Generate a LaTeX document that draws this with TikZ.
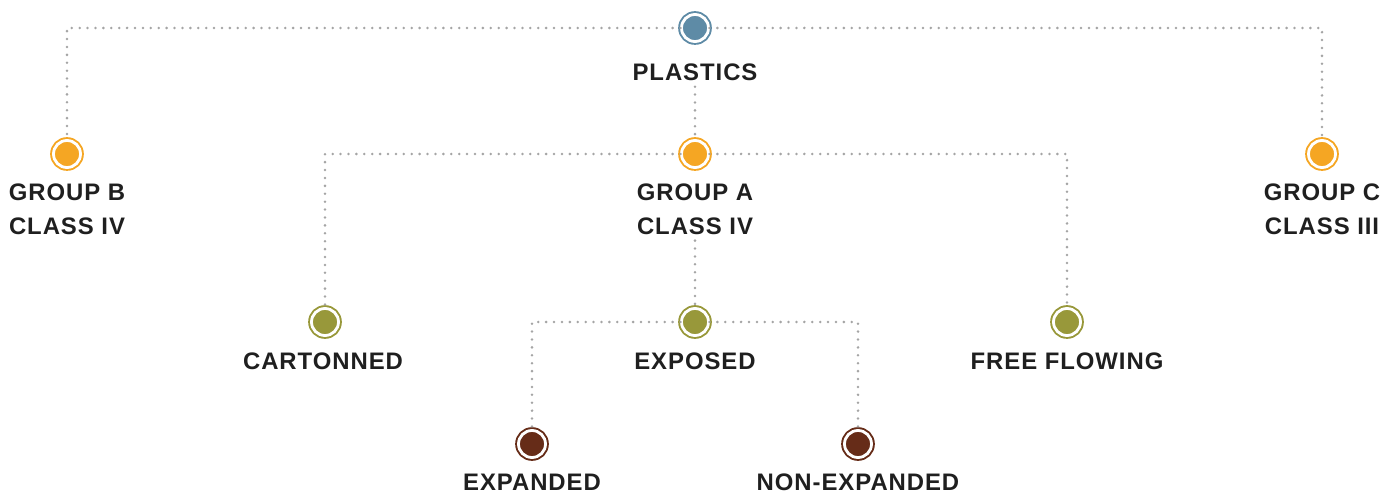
\documentclass[tikz,border=0pt]{standalone}
\usepackage{fontspec}
\setmainfont{Liberation Sans}
\usetikzlibrary{positioning}
\definecolor{plasticblue}{RGB}{94,139,166}
\definecolor{grouporange}{RGB}{245,166,35}
\definecolor{storeolive}{RGB}{152,152,58}
\definecolor{foambrown}{RGB}{102,44,24}
\definecolor{linegray}{RGB}{165,165,165}
\begin{document}
\begin{tikzpicture}[
    x=0.02cm, y=-0.02cm,
    every node/.style={align=center},
    marker/.style={circle, inner sep=0pt, minimum size=0.54cm, draw=#1, fill=#1,
        line width=1.1pt, double=white, double distance=1.6pt},
    caption/.style={font=\fontsize{13.6}{19.3}\selectfont\bfseries\addfontfeatures{LetterSpace=4},
        text=black!88},
    dotted line/.style={draw=linegray, line width=1.6pt, line cap=round,
        dash pattern=on 0pt off 4.5pt},
    ]
\useasboundingbox (0,0) rectangle (1394,493);
% markers
\node[marker=plasticblue] (plastics) at (695,28) {};
\node[marker=grouporange] (groupB) at (67,154) {};
\node[marker=grouporange] (groupA) at (695,154) {};
\node[marker=grouporange] (groupC) at (1322,154) {};
\node[marker=storeolive] (cartonned) at (325,322) {};
\node[marker=storeolive] (exposed) at (695,322) {};
\node[marker=storeolive] (freeflowing) at (1067,322) {};
\node[marker=foambrown] (expanded) at (532,444) {};
\node[marker=foambrown] (nonexpanded) at (858,444) {};
% captions
\node[caption] (plasticsL) at (695,72) {PLASTICS};
\node[caption] (groupBL) at (67,209) {GROUP B\\CLASS IV};
\node[caption] (groupAL) at (695,209) {GROUP A\\CLASS IV};
\node[caption] (groupCL) at (1322,209) {GROUP C\\CLASS III};
\node[caption] (cartonnedL) at (323,361) {CARTONNED};
\node[caption] (exposedL) at (695,361) {EXPOSED};
\node[caption] (freeflowingL) at (1067,361) {FREE FLOWING};
\node[caption] (expandedL) at (532,482) {EXPANDED};
\node[caption] (nonexpandedL) at (858,482) {NON-EXPANDED};
% connectors
\draw[dotted line] (plastics) -| (groupB);
\draw[dotted line] (plastics) -| (groupC);
\draw[dotted line] (plasticsL) -- (groupA);
\draw[dotted line] (groupA) -| (cartonned);
\draw[dotted line] (groupA) -| (freeflowing);
\draw[dotted line] (groupAL) -- (exposed);
\draw[dotted line] (exposed) -| (expanded);
\draw[dotted line] (exposed) -| (nonexpanded);
\end{tikzpicture}
\end{document}
